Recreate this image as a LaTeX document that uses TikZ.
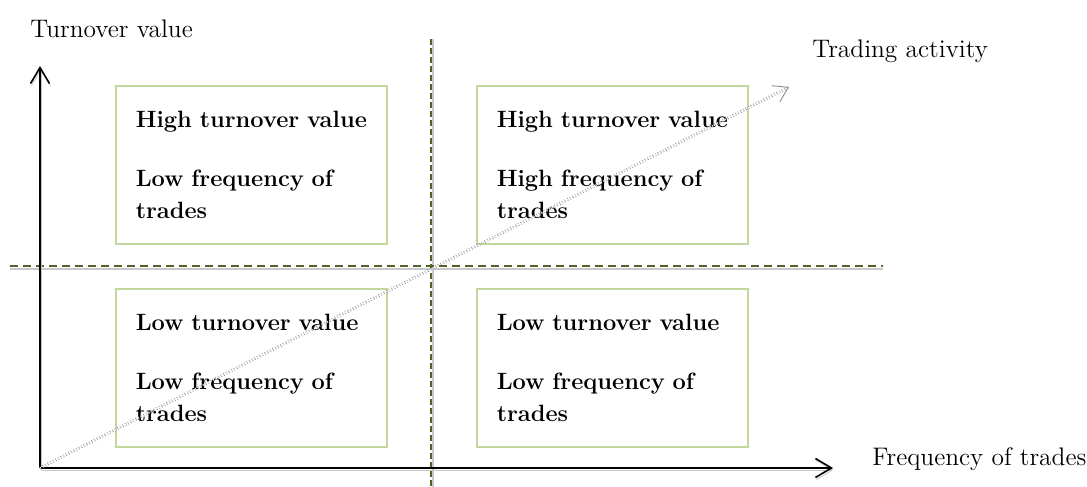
\documentclass[tikz,border=0pt]{standalone}
\usepackage{fontspec}
\usepackage{tikz}
\usetikzlibrary{arrows.meta,positioning}
\definecolor{quadgreen}{RGB}{195,214,155}
\definecolor{splitolive}{RGB}{79,98,40}
\definecolor{shadowgray}{RGB}{200,200,200}

\begin{document}
\begin{tikzpicture}[x=0.5pt, y=-0.5pt,
    quadbox/.style={draw=quadgreen, line width=0.75pt, anchor=north west, minimum width=135.5pt, minimum height=79pt, text width=115.5pt, align=left, inner xsep=10pt, inner ysep=0pt, font=\fontsize{11.8}{16}\selectfont\bfseries},
    axislabel/.style={anchor=base west, inner sep=0pt, font=\fontsize{12.7}{14}\selectfont},
    axis/.style={line width=0.8pt, -{Straight Barb[length=8pt,width=9.5pt]}, preaction={draw=shadowgray, transform canvas={shift={(0.5pt,-1pt)}}}},
    hsplit/.style={draw=splitolive, line width=1.1pt, dash pattern=on 3.75pt off 2.75pt, preaction={draw=shadowgray, line width=0.7pt, transform canvas={shift={(0pt,-1.5pt)}}}},
    vsplit/.style={draw=splitolive, line width=0.9pt, dash pattern=on 3pt off 1.5pt, preaction={draw=shadowgray, line width=0.6pt, transform canvas={shift={(1pt,0pt)}}}},
    trend/.style={draw=black!45, line width=0.45pt, double=white, double distance=0.5pt, densely dotted, -{Straight Barb[length=7pt,width=9pt]}}]
    \useasboundingbox (0,0) rectangle (1087,487);

    % corner points
    \coordinate (origin) at (40,468);
    \coordinate (ytip) at (40,66);
    \coordinate (xtip) at (833,468);
    \coordinate (dtip) at (789,87);
    \coordinate (vtop) at (431,39);
    \coordinate (vbot) at (431,487);
    \coordinate (hleft) at (10,266);
    \coordinate (hright) at (883,266);

    % quadrant split
    \draw[vsplit] (vtop) -- (vbot);
    \draw[hsplit] (hleft) -- (hright);

    % quadrants
    \node[quadbox] (highlow) at (115,85) {High~turnover~value\\[13.5pt]Low frequency of\\trades};
    \node[quadbox] (highhigh) at (476,85) {High~turnover~value\\[13.5pt]High frequency of\\trades};
    \node[quadbox] (lowlow) at (115,288) {Low~turnover~value\\[13.5pt]Low frequency of\\trades};
    \node[quadbox] (lowhigh) at (476,288) {Low~turnover~value\\[13.5pt]Low frequency of\\trades};

    % axes
    \draw[axis] (origin) -- (ytip);
    \draw[axis] (origin) -- (xtip);
    \draw[trend] (origin) -- (dtip);

    \node[axislabel] (ylabel) at (30,37) {Turnover value};
    \node[axislabel] (xlabel) at (872,465) {Frequency of trades};
    \node[axislabel] (dlabel) at (812,57) {Trading activity};
\end{tikzpicture}
\end{document}
